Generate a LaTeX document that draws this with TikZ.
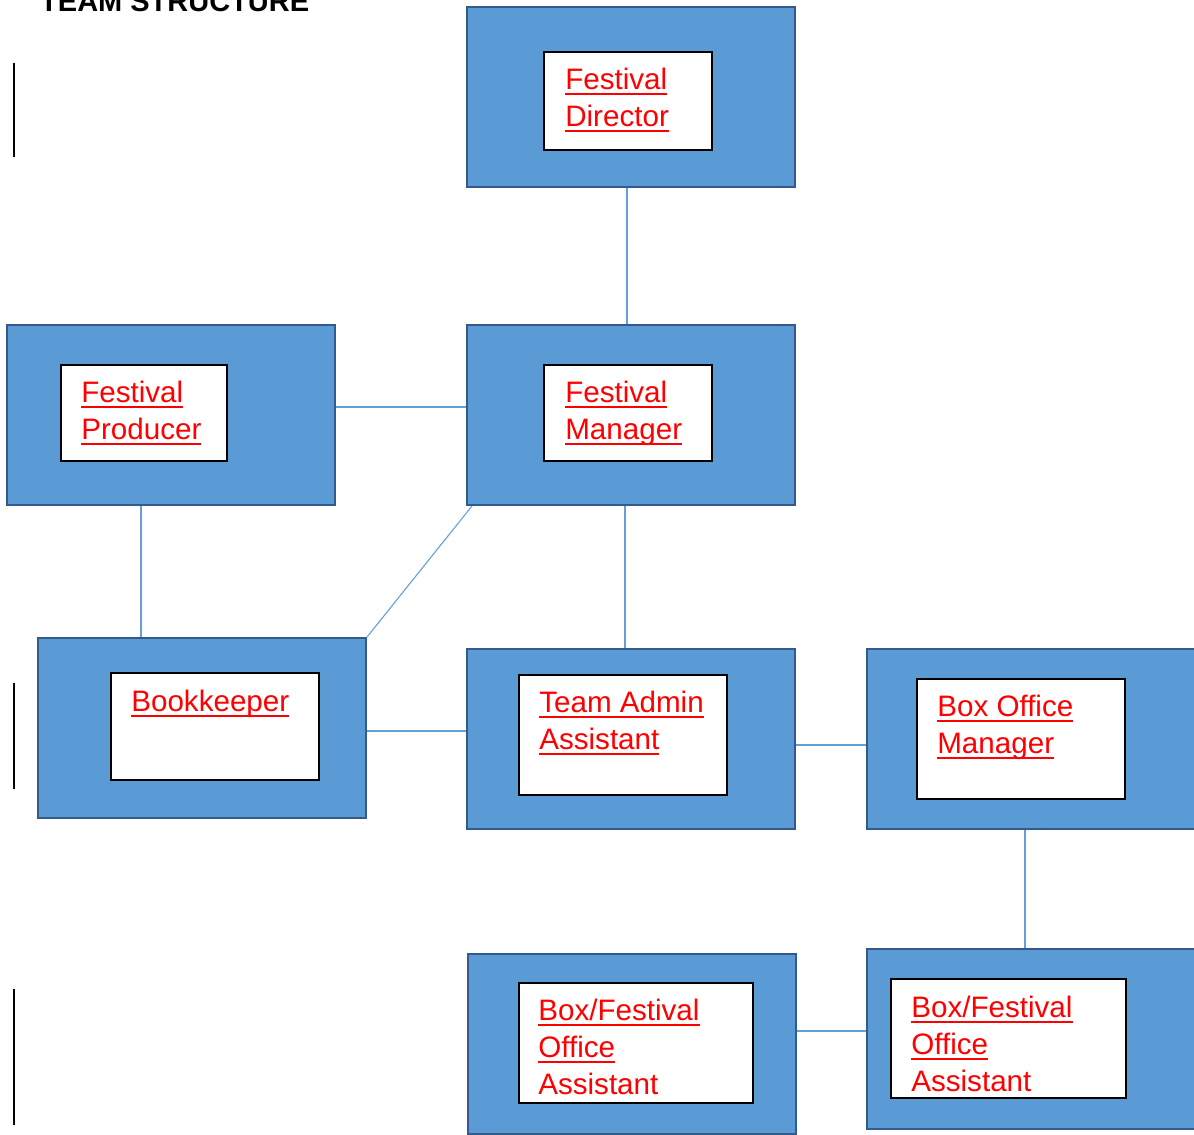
\documentclass[tikz,border=0pt]{standalone}
\usepackage{fontspec}
\setmainfont{Liberation Sans}
\usepackage{tikz}
\newcommand\roleline[1]{\setbox0\hbox{#1}\rlap{\rule[-5.3pt]{\wd0}{2pt}}\box0}
\definecolor{postblue}{RGB}{91,155,213}
\definecolor{postedge}{RGB}{50,90,140}
\definecolor{linkblue}{RGB}{100,160,215}
\tikzstyle{post} = [rectangle, minimum width=328pt, minimum height=180pt, inner sep=0, draw=postedge, line width=2.2pt, fill=postblue]
\tikzstyle{card} = [rectangle, inner sep=0, draw=black, line width=1.8pt, fill=white]
\tikzstyle{role} = [anchor=north west, inner sep=0, align=left, text=red, font=\fontsize{29.6}{37}\selectfont]
\tikzstyle{cursor} = [rectangle, inner sep=0, minimum width=1.7pt, fill=black]
\tikzstyle{link} = [linkblue, line width=1.1pt]

\begin{document}
\begin{tikzpicture}[x=1pt,y=-1pt]
  \useasboundingbox (0,0) rectangle (1194,1135);
  \node (head) [anchor=base west, inner sep=0, font=\fontsize{29}{35}\selectfont\bfseries] at (40,12) {TEAM STRUCTURE};
  % margin bars
  \node (bara) [cursor, minimum height=94pt] at (14,110) {};
  \node (barb) [cursor, minimum height=93pt] at (14,422) {};
  \node (barc) [cursor, minimum height=106pt] at (14,736) {};
  \node (bard) [cursor, minimum height=136pt] at (14,1057) {};
  % outer boxes
  \node (dirbox) [post] at (631,97) {};
  \node (prodbox) [post] at (171,415) {};
  \node (mgrbox) [post] at (631,415) {};
  \node (bookbox) [post] at (202,728) {};
  \node (adminbox) [post] at (631,739) {};
  \node (bombox) [post] at (1031,739) {};
  \node (asstabox) [post] at (632,1044) {};
  \node (asstbbox) [post] at (1031,1039) {};
  % inner boxes
  \node (dir) [card, minimum width=168pt, minimum height=98pt] at (628,101) {};
  \node (prod) [card, minimum width=166pt, minimum height=96pt] at (144,413) {};
  \node (mgr) [card, minimum width=168pt, minimum height=96pt] at (628,413) {};
  \node (book) [card, minimum width=208pt, minimum height=107pt] at (215,726.5) {};
  \node (admin) [card, minimum width=208pt, minimum height=120pt] at (623,735) {};
  \node (bom) [card, minimum width=208pt, minimum height=120pt] at (1021,739) {};
  \node (assta) [card, minimum width=234pt, minimum height=120pt] at (636,1043) {};
  \node (asstb) [card, minimum width=235pt, minimum height=119pt] at (1008.5,1038.5) {};
  % role names
  \node (dirtxt) [role] at ([shift={(22pt,-12.5pt)}]dir.north west) {\strut\roleline{Festival}\\\roleline{Director}};
  \node (prodtxt) [role] at ([shift={(21pt,-12.5pt)}]prod.north west) {\strut\roleline{Festival}\\\roleline{Producer}};
  \node (mgrtxt) [role] at ([shift={(22pt,-12.5pt)}]mgr.north west) {\strut\roleline{Festival}\\\roleline{Manager}};
  \node (booktxt) [role] at ([shift={(21pt,-13pt)}]book.north west) {\strut\roleline{Bookkeeper}};
  \node (admintxt) [role] at ([shift={(21pt,-12.5pt)}]admin.north west) {\strut\roleline{Team Admin}\\\roleline{Assistant}};
  \node (bomtxt) [role] at ([shift={(21pt,-12.5pt)}]bom.north west) {\strut\roleline{Box Office}\\\roleline{Manager}};
  \node (asstatxt) [role] at ([shift={(20pt,-12.5pt)}]assta.north west) {\strut\roleline{Box/Festival}\\\roleline{Office}\\Assistant};
  \node (asstbtxt) [role] at ([shift={(21pt,-13pt)}]asstb.north west) {\strut\roleline{Box/Festival}\\\roleline{Office}\\Assistant};
  % connectors
  \draw[link] ([xshift=-4pt]dirbox.south) -- ([xshift=-4pt]mgrbox.north);
  \draw[link] ([yshift=8pt]prodbox.east) -- ([yshift=8pt]prodbox.east -| mgrbox.west);
  \draw[link] ([xshift=-30pt]prodbox.south) -- ([xshift=-30pt]prodbox.south |- bookbox.north);
  \draw[link] ([xshift=6pt]mgrbox.south west) -- (bookbox.north east);
  \draw[link] ([xshift=-6pt]mgrbox.south) -- ([xshift=-6pt]mgrbox.south |- adminbox.north);
  \draw[link] ([yshift=-3pt]bookbox.east) -- ([yshift=-3pt]bookbox.east -| adminbox.west);
  \draw[link] ([yshift=-6pt]adminbox.east) -- ([yshift=-6pt]adminbox.east -| bombox.west);
  \draw[link] ([xshift=-6pt]bombox.south) -- ([xshift=-6pt]bombox.south |- asstbbox.north);
  \draw[link] ([yshift=13pt]asstabox.east) -- ([yshift=13pt]asstabox.east -| asstbbox.west);
\end{tikzpicture}
\end{document}
